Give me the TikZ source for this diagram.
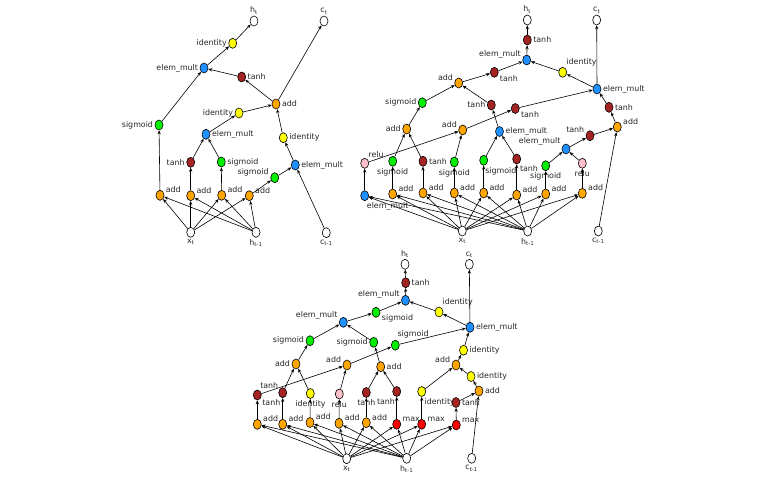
\documentclass[tikz,border=0pt]{standalone}
\usepackage{fontspec}
\setmainfont{DejaVu Sans}
\usetikzlibrary{shapes.geometric,arrows.meta}
\definecolor{cOr}{RGB}{255,165,0}
\definecolor{cYl}{RGB}{255,255,0}
\definecolor{cGr}{RGB}{0,240,0}
\definecolor{cBl}{RGB}{30,144,255}
\definecolor{cTh}{RGB}{165,35,35}
\definecolor{cPk}{RGB}{255,192,203}
\definecolor{cRd}{RGB}{255,0,0}
\tikzset{
  nd/.style={ellipse,draw=black,line width=0.6pt,minimum width=8pt,minimum height=10pt,inner sep=0pt},
  io/.style={nd,fill=white},
  ad/.style={nd,fill=cOr},
  yl/.style={nd,fill=cYl},
  gr/.style={nd,fill=cGr},
  bl/.style={nd,fill=cBl},
  th/.style={nd,fill=cTh},
  pk/.style={nd,fill=cPk},
  mx/.style={nd,fill=cRd},
  lbl/.style={font=\fontsize{7.9}{9}\selectfont,text=black!85,inner sep=1pt},
  ar/.style={draw=black,line width=0.6pt,-{Stealth[length=4pt,width=3.2pt]}},
}
\newcommand\nd[6]{\node[#4,label={[lbl,label distance=0.5pt]#5:{#6}}] (#1) at (#2,#3) {};}
\newcommand\ar[2]{\draw[ar] (#1) -- (#2);}
\def\EM{elem\_mult}
\begin{document}
\begin{tikzpicture}[x=1pt,y=-1pt]
\useasboundingbox (0,0) rectangle (780,480);
% ---------------- graph A ----------------
\nd{Aht}{254}{21}{io}{above}{h\textsubscript{t}}
\nd{Act}{324}{21}{io}{above}{c\textsubscript{t}}
\nd{Aid1}{232.7}{43.3}{yl}{left}{identity}
\nd{Aem1}{204}{68}{bl}{left}{\EM}
\nd{Ath1}{241.7}{77}{th}{right}{tanh}
\nd{Aad1}{276}{104}{ad}{right}{add}
\nd{Aid2}{239}{113}{yl}{left}{identity}
\nd{Asg1}{159}{125}{gr}{left}{sigmoid}
\nd{Aem2}{206}{134.3}{bl}{right}{\EM}
\nd{Aid3}{283.3}{137.7}{yl}{right}{identity}
\nd{Ath2}{190.7}{162.3}{th}{left}{tanh}
\nd{Asg2}{221.3}{162}{gr}{right}{sigmoid}
\nd{Aem3}{295.3}{165}{bl}{right}{\EM}
\nd{Asg3}{274.7}{177.7}{gr}{172}{sigmoid}
\nd{Aa1}{160}{195.3}{ad}{15}{add}
\nd{Aa2}{190.7}{195.7}{ad}{15}{add}
\nd{Aa3}{221.7}{195.3}{ad}{15}{add}
\nd{Aa4}{249.3}{195.7}{ad}{15}{add}
\nd{Axt}{190.7}{232.3}{io}{below}{x\textsubscript{t}}
\nd{Ahp}{256}{232.3}{io}{below}{h\textsubscript{t-1}}
\nd{Acp}{326.3}{232.7}{io}{below}{c\textsubscript{t-1}}
\foreach \t in {Aa1,Aa2,Aa3,Aa4}{\ar{Axt}{\t}\ar{Ahp}{\t}}
\ar{Aa1}{Asg1}\ar{Aa2}{Ath2}\ar{Aa3}{Asg2}\ar{Aa4}{Asg3}
\ar{Ath2}{Aem2}\ar{Asg2}{Aem2}
\ar{Aem2}{Aid2}\ar{Aid2}{Aad1}
\ar{Asg3}{Aem3}\ar{Acp}{Aem3}
\ar{Aem3}{Aid3}\ar{Aid3}{Aad1}
\ar{Aad1}{Ath1}\ar{Aad1}{Act}
\ar{Ath1}{Aem1}\ar{Asg1}{Aem1}
\ar{Aem1}{Aid1}\ar{Aid1}{Aht}
% ---------------- graph B ----------------
\nd{Bht}{527.3}{20}{io}{above}{h\textsubscript{t}}
\nd{Bct}{596.7}{20}{io}{above}{c\textsubscript{t}}
\nd{Bth1}{527.3}{40}{th}{right}{tanh}
\nd{Bem1}{526.7}{60}{bl}{172}{\EM}
\nd{Bid1}{562.7}{72.3}{yl}{62}{identity}
\nd{Bem2}{597}{89}{bl}{right}{\EM}
\nd{Bth2}{609}{107.3}{th}{right}{tanh}
\nd{Bad1}{617.3}{127}{ad}{15}{add}
\nd{Bth3}{515.3}{108.5}{th}{-22}{tanh}
\nd{Bth4}{494.3}{72.3}{th}{-25}{tanh}
\nd{Bad2}{458.7}{83}{ad}{160}{add}
\nd{Bsg1}{422.3}{102.7}{gr}{left}{sigmoid}
\nd{Bth5}{491.3}{105}{th}{left}{tanh}
\nd{Bad3}{406.7}{129}{ad}{left}{add}
\nd{Bad4}{462.7}{130}{ad}{165}{add}
\nd{Bem3}{499.5}{131.5}{bl}{right}{\EM}
\nd{Bem4}{566}{149}{bl}{150}{\EM}
\nd{Bth6}{590}{135.7}{th}{160}{tanh}
\nd{Bre1}{364.7}{163.3}{pk}{62}{relu}
\nd{Bsg2}{392.7}{161.3}{gr}{below}{sigmoid}
\nd{Bth7}{423}{161.3}{th}{right}{tanh}
\nd{Bsg3}{454.3}{162}{gr}{below}{sigmoid}
\nd{Bsg4}{483.7}{160.3}{gr}{-86}{sigmoid}
\nd{Bth8}{516.7}{159}{th}{-68}{tanh}
\nd{Bsg5}{545.7}{165.7}{gr}{below}{sigmoid}
\nd{Bre2}{582.3}{163.3}{pk}{below}{relu}
\nd{Bb1}{364.7}{195.7}{bl}{-80}{\EM}
\nd{Bb2}{392.7}{194}{ad}{15}{add}
\nd{Bb3}{423}{193}{ad}{15}{add}
\nd{Bb4}{454.3}{193}{ad}{15}{add}
\nd{Bb5}{483.7}{193}{ad}{15}{add}
\nd{Bb6}{516.7}{195}{ad}{15}{add}
\nd{Bb7}{545.7}{194}{ad}{15}{add}
\nd{Bb8}{582.3}{193.3}{ad}{15}{add}
\nd{Bxt}{462.3}{231}{io}{below}{x\textsubscript{t}}
\nd{Bhp}{527.7}{231}{io}{below}{h\textsubscript{t-1}}
\nd{Bcp}{598.3}{231}{io}{below}{c\textsubscript{t-1}}
\foreach \t in {Bb1,Bb2,Bb3,Bb4,Bb5,Bb6,Bb7,Bb8}{\ar{Bxt}{\t}\ar{Bhp}{\t}}
\ar{Bb1}{Bre1}\ar{Bb2}{Bsg2}\ar{Bb3}{Bth7}\ar{Bb4}{Bsg3}
\ar{Bb5}{Bsg4}\ar{Bb6}{Bth8}\ar{Bb7}{Bsg5}\ar{Bb8}{Bre2}
\ar{Bsg2}{Bad3}\ar{Bth7}{Bad3}
\ar{Bre1}{Bad4}\ar{Bsg3}{Bad4}
\ar{Bsg4}{Bem3}\ar{Bth8}{Bem3}
\ar{Bsg5}{Bem4}\ar{Bre2}{Bem4}
\ar{Bem4}{Bth6}\ar{Bth6}{Bad1}\ar{Bcp}{Bad1}
\ar{Bad1}{Bth2}\ar{Bth2}{Bem2}
\ar{Bad3}{Bsg1}\ar{Bsg1}{Bad2}
\ar{Bem3}{Bth5}\ar{Bth5}{Bad2}
\ar{Bad4}{Bth3}\ar{Bth3}{Bem2}
\ar{Bem2}{Bid1}\ar{Bid1}{Bem1}\ar{Bem2}{Bct}
\ar{Bad2}{Bth4}\ar{Bth4}{Bem1}
\ar{Bem1}{Bth1}\ar{Bth1}{Bht}
% ---------------- graph C ----------------
\nd{Cht}{405}{264.3}{io}{above}{h\textsubscript{t}}
\nd{Cct}{469.3}{264.3}{io}{above}{c\textsubscript{t}}
\nd{Cth1}{405.7}{282.7}{th}{right}{tanh}
\nd{Cem1}{405.5}{300.3}{bl}{168}{\EM}
\nd{Cid1}{439}{312}{yl}{65}{identity}
\nd{Cem2}{470}{327.3}{bl}{right}{\EM}
\nd{Csg1}{376}{312.3}{gr}{-10}{sigmoid}
\nd{Cem3}{343.3}{322.3}{bl}{160}{\EM}
\nd{Csg2}{310}{340.7}{gr}{left}{sigmoid}
\nd{Csg3}{373.7}{342.3}{gr}{left}{sigmoid}
\nd{Csg4}{395.3}{345.2}{gr}{80}{sigmoid}
\nd{Cid2}{463.5}{350.2}{yl}{right}{identity}
\nd{Cad1}{296}{364}{ad}{left}{add}
\nd{Cad2}{347}{365}{ad}{165}{add}
\nd{Cad3}{380.7}{366.7}{ad}{right}{add}
\nd{Cad4}{456}{365}{ad}{165}{add}
\nd{Cid3}{471}{376.5}{yl}{right}{identity}
\nd{Cad5}{479}{391}{ad}{right}{add}
\nd{Cth2}{257.3}{395}{th}{72}{tanh}
\nd{Cth3}{282.7}{392.7}{th}{-102}{tanh}
\nd{Cid4}{310.3}{393.5}{yl}{-88}{identity}
\nd{Cre1}{339.3}{394}{pk}{below}{relu}
\nd{Cth4}{366.3}{392.5}{th}{below}{tanh}
\nd{Cth5}{396.7}{391.5}{th}{-95}{tanh}
\nd{Cid5}{421.7}{391.5}{yl}{-72}{identity}
\nd{Cth6}{456}{402.5}{th}{right}{tanh}
\nd{Cb1}{257.3}{424.3}{ad}{15}{add}
\nd{Cb2}{282.7}{424.3}{ad}{15}{add}
\nd{Cb3}{310}{422.5}{ad}{15}{add}
\nd{Cb4}{339}{423.3}{ad}{15}{add}
\nd{Cb5}{366.3}{422.7}{ad}{15}{add}
\nd{Cb6}{396.7}{424.3}{mx}{15}{max}
\nd{Cb7}{421.7}{424.3}{mx}{15}{max}
\nd{Cb8}{456.3}{425}{mx}{15}{max}
\nd{Cxt}{346.7}{458.7}{io}{below}{x\textsubscript{t}}
\nd{Chp}{406.7}{458.3}{io}{below}{h\textsubscript{t-1}}
\nd{Ccp}{471.7}{458.3}{io}{below}{c\textsubscript{t-1}}
\foreach \t in {Cb1,Cb2,Cb3,Cb4,Cb5,Cb6,Cb7,Cb8}{\ar{Cxt}{\t}\ar{Chp}{\t}}
\ar{Cb1}{Cth2}\ar{Cb2}{Cth3}\ar{Cb3}{Cid4}\ar{Cb4}{Cre1}
\ar{Cb5}{Cth4}\ar{Cb6}{Cth5}\ar{Cb7}{Cid5}\ar{Cb8}{Cth6}
\ar{Cth3}{Cad1}\ar{Cid4}{Cad1}
\ar{Cth2}{Cad2}\ar{Cre1}{Cad2}
\ar{Cth4}{Cad3}\ar{Cth5}{Cad3}
\ar{Cid5}{Cad4}
\ar{Cth6}{Cad5}\ar{Ccp}{Cad5}
\ar{Cad5}{Cid3}\ar{Cid3}{Cad4}
\ar{Cad4}{Cid2}\ar{Cid2}{Cem2}
\ar{Cad1}{Csg2}\ar{Csg2}{Cem3}
\ar{Cad3}{Csg3}\ar{Csg3}{Cem3}
\ar{Cad2}{Csg4}\ar{Csg4}{Cem2}
\ar{Cem3}{Csg1}\ar{Csg1}{Cem1}
\ar{Cem2}{Cid1}\ar{Cid1}{Cem1}
\ar{Cem2}{Cct}
\ar{Cem1}{Cth1}\ar{Cth1}{Cht}
\end{tikzpicture}
\end{document}
